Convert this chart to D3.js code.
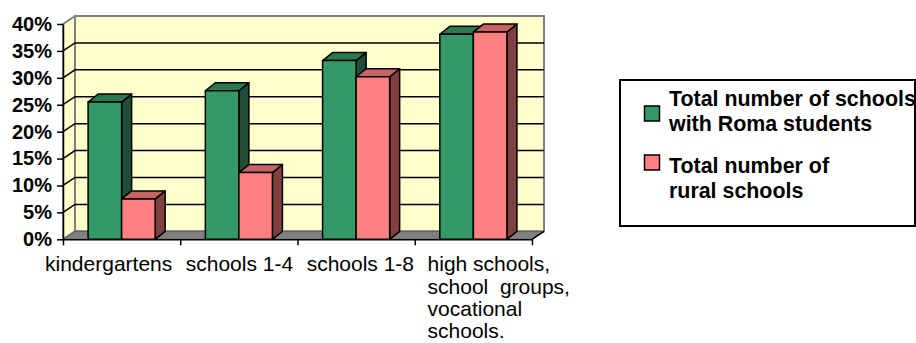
<!DOCTYPE html>
<html>
<head>
<meta charset="utf-8">
<script src="https://cdn.jsdelivr.net/npm/d3@7"></script>
<style>
  html, body { margin: 0; padding: 0; background: #fff; }
  svg { display: block; }
  text { font-family: "Liberation Sans", Arial, sans-serif; fill: #000; }
</style>
</head>
<body>
<svg id="chart" width="916" height="343"></svg>
<script>
// Share of schools by type (percent)
const categories = ["kindergartens", "schools 1-4", "schools 1-8", "high schools, school groups, vocational schools."];
const categoryLines = [
  ["kindergartens"],
  ["schools 1-4"],
  ["schools 1-8"],
  ["high schools,", "school  groups,", "vocational", "schools."]
];
const seriesNames = ["Total number of schools with Roma students", "Total number of rural schools"];
const legendLines = [["Total number of schools", "with Roma students"], ["Total number of", "rural schools"]];
const romaShare = [25.5, 27.6, 33.2, 38.1];
const ruralShare = [7.5, 12.4, 30.2, 38.5];
const yTicks = [0, 5, 10, 15, 20, 25, 30, 35, 40];

const series = [romaShare, ruralShare];
const faceColors = [
  { front: "#339966", top: "#2a7850", side: "#1f4d35" },
  { front: "#ff8080", top: "#c86464", side: "#804040" }
];

const svg = d3.select("#chart");

// plot frame (front plane) and 3D depth offsets
const plotLeft = 63, plotRight = 532, plotBottom = 239.3, plotTop = 24;
const wallDx = 12, wallDy = -8;
const barDx = 10, barDy = -8;

const y = d3.scaleLinear().domain([0, 40]).range([plotBottom, plotTop]);
const x0 = d3.scaleBand().domain(categories).range([plotLeft, plotRight]).paddingInner(0);
const groupW = x0.bandwidth() * 0.572;
const x1 = d3.scaleBand().domain(d3.range(series.length)).range([0, groupW]);

const wallFill = "#ffffcc", wallEdge = "#808080";

// back wall
svg.append("polygon")
  .attr("points", [[plotLeft + wallDx, y(40) + wallDy], [plotRight + wallDx, y(40) + wallDy],
                   [plotRight + wallDx, y(0) + wallDy], [plotLeft + wallDx, y(0) + wallDy]].join(" "))
  .attr("fill", wallFill).attr("stroke", wallEdge).attr("stroke-width", 2);

// side wall
svg.append("polygon")
  .attr("points", [[plotLeft, y(40)], [plotLeft + wallDx, y(40) + wallDy],
                   [plotLeft + wallDx, y(0) + wallDy], [plotLeft, y(0)]].join(" "))
  .attr("fill", wallFill).attr("stroke", wallEdge).attr("stroke-width", 2);

// gridlines across side wall and back wall
svg.append("g").selectAll("polyline")
  .data(yTicks.filter(t => t > 0 && t < 40))
  .join("polyline")
  .attr("points", t => [[plotLeft, y(t)], [plotLeft + wallDx, y(t) + wallDy], [plotRight + wallDx, y(t) + wallDy]].join(" "))
  .attr("fill", "none").attr("stroke", "#000").attr("stroke-width", 1.5);

// floor
svg.append("polygon")
  .attr("points", [[plotLeft, y(0)], [plotLeft + wallDx, y(0) + wallDy],
                   [plotRight + wallDx, y(0) + wallDy], [plotRight, y(0)]].join(" "))
  .attr("fill", "#808080").attr("stroke", "#5a5a5a").attr("stroke-width", 1);

// bars
const bars = svg.append("g");
categories.forEach((cat, ci) => {
  const gx = x0(cat) + (x0.bandwidth() - groupW) / 2;
  series.forEach((vals, si) => {
    const v = vals[ci];
    const bx = gx + x1(si), bw = x1.bandwidth();
    const yt = y(v), yb = y(0);
    const c = faceColors[si];
    const g = bars.append("g")
      .attr("stroke", "#000").attr("stroke-width", 1.5).attr("stroke-linejoin", "round");
    g.append("polygon")
      .attr("points", [[bx + bw, yt], [bx + bw + barDx, yt + barDy], [bx + bw + barDx, yb + barDy], [bx + bw, yb]].join(" "))
      .attr("fill", c.side);
    g.append("polygon")
      .attr("points", [[bx, yt], [bx + barDx, yt + barDy], [bx + bw + barDx, yt + barDy], [bx + bw, yt]].join(" "))
      .attr("fill", c.top);
    g.append("rect")
      .attr("x", bx).attr("y", yt).attr("width", bw).attr("height", yb - yt)
      .attr("fill", c.front);
  });
});

// value axis
const yAxis = svg.append("g")
  .attr("transform", `translate(${plotLeft},0)`)
  .call(d3.axisLeft(y).tickValues(yTicks).tickFormat(d => d + "%").tickSize(6).tickSizeOuter(0).tickPadding(5));
yAxis.select(".domain").attr("stroke", "#000").attr("stroke-width", 1.5);
yAxis.selectAll(".tick line").attr("stroke", "#000").attr("stroke-width", 1.5);
yAxis.selectAll(".tick text")
  .style("font-family", "'Liberation Sans', Arial, sans-serif")
  .style("font-size", "20px").style("font-weight", "bold");

// category axis: tick marks at category boundaries
const xb = d3.scaleLinear().domain([0, categories.length]).range([plotLeft, plotRight]);
const xAxis = svg.append("g")
  .attr("transform", `translate(0,${plotBottom})`)
  .call(d3.axisBottom(xb).tickValues(d3.range(categories.length + 1)).tickFormat("").tickSize(6).tickSizeOuter(0));
xAxis.select(".domain").attr("stroke", "#000").attr("stroke-width", 1.5);
xAxis.selectAll(".tick line").attr("stroke", "#000").attr("stroke-width", 1.5);

// floor right edge
svg.append("line")
  .attr("x1", plotRight).attr("y1", y(0)).attr("x2", plotRight + wallDx).attr("y2", y(0) + wallDy)
  .attr("stroke", "#000").attr("stroke-width", 1.5);

// category labels, laid out left to right
const labelG = svg.append("g");
let cursor = plotLeft - 18;
const labelGap = 13.5;
categoryLines.forEach((lines) => {
  const t = labelG.append("text")
    .attr("x", cursor).attr("y", plotBottom + 32)
    .style("font-size", "21px")
    .attr("xml:space", "preserve").style("white-space", "pre");
  lines.forEach((ln, i) => {
    t.append("tspan").attr("x", cursor).attr("dy", i === 0 ? 0 : 22.3).text(ln);
  });
  const w = t.select("tspan").node().getComputedTextLength();
  cursor += w + labelGap;
});

// legend
const lg = svg.append("g");
lg.append("rect")
  .attr("x", 620).attr("y", 80).attr("width", 295).attr("height", 146)
  .attr("fill", "#fff").attr("stroke", "#000").attr("stroke-width", 2);
const legendRows = [
  { swatchY: 106, baseY: 106 },
  { swatchY: 155, baseY: 173 }
];
seriesNames.forEach((name, i) => {
  lg.append("rect")
    .attr("x", 644.5).attr("y", legendRows[i].swatchY).attr("width", 15).attr("height", 15)
    .attr("fill", faceColors[i].front).attr("stroke", "#000").attr("stroke-width", 1.5);
  const t = lg.append("text")
    .attr("x", 669).attr("y", legendRows[i].baseY)
    .style("font-size", "21.4px").style("font-weight", "bold");
  legendLines[i].forEach((ln, j) => {
    t.append("tspan").attr("x", 669).attr("dy", j === 0 ? 0 : 24.5).text(ln);
  });
});
</script>
</body>
</html>
